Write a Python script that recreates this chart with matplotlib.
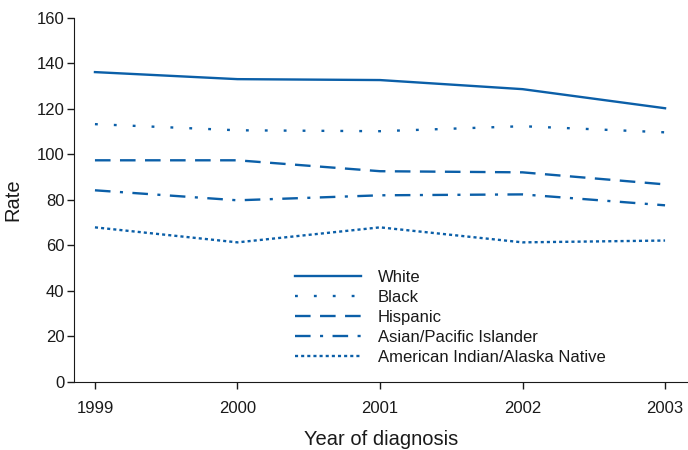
import matplotlib
matplotlib.use("Agg")
import matplotlib.pyplot as plt

# data
years = [1999, 2000, 2001, 2002, 2003]
white = [136.2, 133.1, 132.7, 128.7, 120.3]
black = [113.3, 110.6, 110.2, 112.4, 109.7]
hispanic = [97.4, 97.4, 92.6, 92.1, 86.8]
asian_pi = [84.2, 79.8, 82.0, 82.4, 77.6]
aian = [67.9, 61.3, 67.9, 61.3, 62.1]

labels = ["White", "Black", "Hispanic", "Asian/Pacific Islander",
          "American Indian/Alaska Native"]

plt.rcParams['font.family'] = ['Liberation Sans', 'DejaVu Sans']
blue = '#0b5fa8'
ink = '#1a1a1a'

fig = plt.figure(figsize=(6.88, 4.5), dpi=100)
ax = fig.add_axes([74 / 688, 68.3 / 450, 614 / 688, 363.7 / 450])

series = [white, black, hispanic, asian_pi, aian]
styles = [
    '-',
    (0, (1.2, 6.8)),
    (0, (6.6, 4)),
    (0, (6.6, 4, 1.3, 4)),
    (0, (1.3, 1.3)),
]
for values, ls, lab in zip(series, styles, labels):
    ax.plot(years, values, color=blue, linewidth=1.7, linestyle=ls, label=lab)

ax.set_xlim(1998.853, 2003.161)
ax.set_ylim(0, 160)
ax.set_xticks(years)
ax.set_yticks(range(0, 161, 20))
ax.spines['top'].set_visible(False)
ax.spines['right'].set_visible(False)
for s in ['left', 'bottom']:
    ax.spines[s].set_color(ink)
ax.tick_params(axis='both', direction='out', length=5, width=1, labelsize=12,
               colors=ink)
ax.tick_params(axis='x', pad=9)
ax.tick_params(axis='y', pad=2)

ax.set_xlabel('Year of diagnosis', fontsize=14.5, color=ink, labelpad=10)
ax.set_ylabel('Rate', fontsize=14.5, color=ink, labelpad=10)

leg = ax.legend(loc='upper left', bbox_to_anchor=(214 / 614, 0.325),
                frameon=False, fontsize=12, handlelength=4.0,
                handletextpad=1.0, labelspacing=0.3, borderaxespad=0)
for t in leg.get_texts():
    t.set_color(ink)

fig.savefig('out.png', dpi=100)
